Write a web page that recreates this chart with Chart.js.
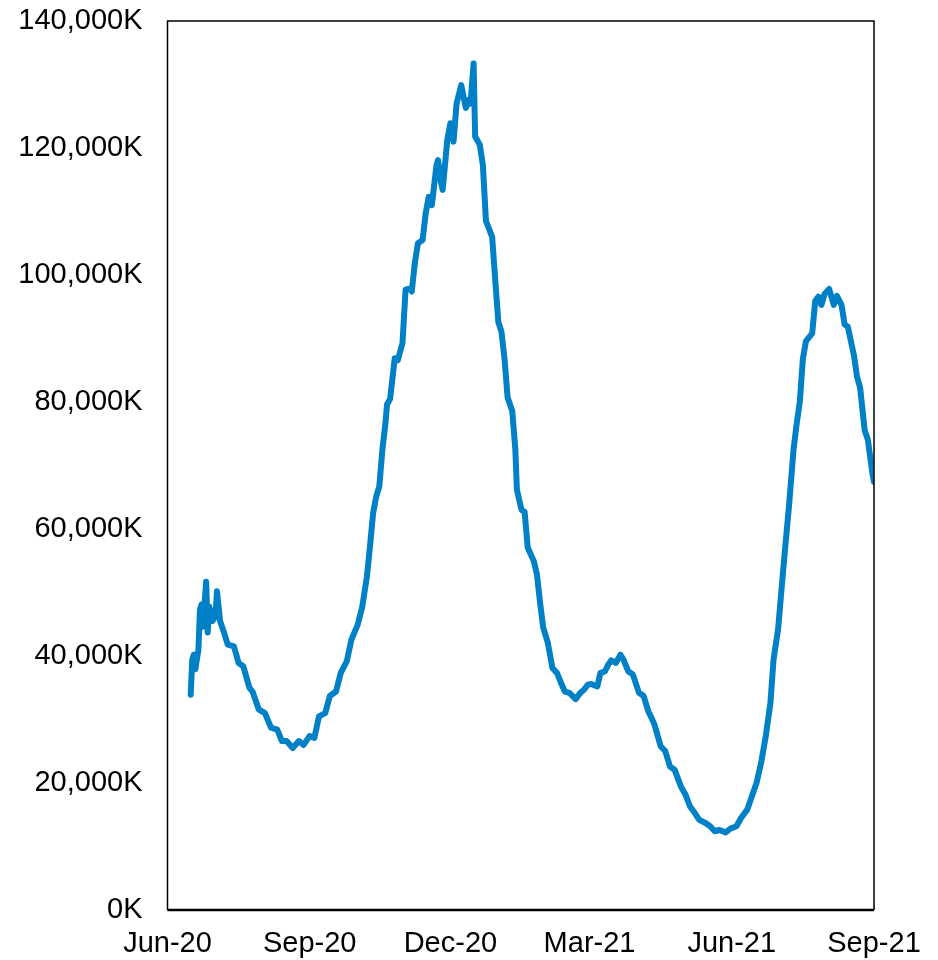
<!DOCTYPE html>
<html>
<head>
<meta charset="utf-8">
<script src="https://cdn.jsdelivr.net/npm/chart.js@4/dist/chart.umd.min.js"></script>
<style>
  html, body { margin: 0; padding: 0; background: #fff; }
  canvas { display: block; }
</style>
</head>
<body>
<canvas id="myChart" width="938" height="960"></canvas>
<script>
// days since 1 Jun 2020
var dayOffsets = [15,16,17,18,20,21,22,23,25,26,27,29,31,32,34,36,39,43,46,49,53,55,59,63,67,71,74,77,81,85,
  88,92,95,98,102,105,109,112,116,119,123,126,129,131,133,135,137,139,141,142,144,147,149,152,154,157,158,160,162,165,
  167,169,171,174,175,177,178,181,183,185,187,190,193,195,196,198,199,202,204,206,210,212,214,216,218,220,223,225,226,229,
  231,233,237,239,241,243,246,249,252,255,257,260,264,267,269,272,274,278,280,283,285,287,290,293,295,298,301,305,308,311,
  313,315,319,322,325,328,332,335,338,341,344,348,351,354,357,361,364,368,371,375,378,381,384,387,390,392,395,397,399,402,
  405,407,409,411,413,417,419,421,423,425,428,431,433,436,438,440,444,446,448,451,453,456,457];
// values in thousands
var values = [33900,39400,40200,37900,41000,47300,48100,44600,51700,43700,47800,45500,46200,50200,45500,44100,41800,41500,38900,38400,35000,34400,31600,31000,28700,28400,26600,26600,25500,26600,
  26000,27400,27100,30500,31000,33700,34400,37300,39200,42600,44900,47800,52500,57300,62500,65100,66700,72500,76700,79600,80500,86900,86600,89300,97700,97900,97400,101900,105000,105500,
  109700,112300,111000,117300,118100,114500,113400,121300,123900,121000,127000,129900,126300,127600,127000,133300,121800,120500,117300,108500,106000,99200,92600,91100,86800,80700,78600,72500,66200,63000,
  62700,57100,54900,52800,48400,44500,42100,38100,37300,35500,34400,34200,33200,34200,34600,35500,35600,35200,37300,37600,38600,39300,38900,40200,39400,37600,37100,34200,33700,31300,
  30300,29200,25800,25000,22600,22100,19500,18200,16300,15300,14200,13700,13200,12400,12600,12200,12800,13200,14500,15800,17900,20000,23200,27400,32600,39400,44300,50000,55600,63600,
  72600,76600,80000,86800,89600,90800,95900,96600,95300,97000,97800,95300,96700,95300,92200,91900,87400,84000,82300,75500,74100,68700,67400];

var tickDays = [0, 92, 183, 273, 365, 457];
var tickLabels = ["Jun-20", "Sep-20", "Dec-20", "Mar-21", "Jun-21", "Sep-21"];
var yTicks = [0, 20000, 40000, 60000, 80000, 100000, 120000, 140000];

var boxPlugin = {
  id: "box",
  afterDraw: function(chart) {
    var a = chart.chartArea, ctx = chart.ctx;
    ctx.save();
    ctx.strokeStyle = "#000";
    ctx.lineWidth = 1.5;
    ctx.beginPath();
    ctx.moveTo(a.left, a.bottom);
    ctx.lineTo(a.left, a.top);
    ctx.lineTo(a.right, a.top);
    ctx.lineTo(a.right, a.bottom);
    ctx.stroke();
    ctx.lineWidth = 2.5;
    ctx.beginPath();
    ctx.moveTo(a.left, a.bottom);
    ctx.lineTo(a.right, a.bottom);
    ctx.stroke();
    ctx.restore();
  }
};

var font = { family: "'Liberation Sans', Arial, sans-serif", size: 29 };

new Chart("myChart", {
  type: "line",
  data: {
    datasets: [{
      data: dayOffsets.map(function(d, i) { return { x: d, y: values[i] }; }),
      borderColor: "#0080c6",
      borderWidth: 6,
      borderJoinStyle: "round",
      borderCapStyle: "round",
      pointRadius: 0,
      tension: 0,
      fill: false
    }]
  },
  options: {
    responsive: false,
    animation: false,
    layout: { padding: { top: 21, right: 64, left: 0, bottom: 0 } },
    plugins: { legend: { display: false }, tooltip: { enabled: false } },
    scales: {
      x: {
        type: "linear",
        min: 0,
        max: 457,
        grid: { display: false, drawTicks: false },
        border: { display: false },
        afterBuildTicks: function(axis) {
          axis.ticks = tickDays.map(function(v) { return { value: v }; });
        },
        afterFit: function(axis) {
          axis.height = 50;
          axis.paddingLeft = 0;
          axis.paddingRight = 0;
        },
        ticks: {
          color: "#000",
          font: font,
          padding: 17,
          maxRotation: 0,
          autoSkip: false,
          callback: function(v) {
            var i = tickDays.indexOf(v);
            return i >= 0 ? tickLabels[i] : "";
          }
        }
      },
      y: {
        min: 0,
        max: 140000,
        grid: { display: false, drawTicks: false },
        border: { display: false },
        afterBuildTicks: function(axis) {
          axis.ticks = yTicks.map(function(v) { return { value: v }; });
        },
        afterFit: function(axis) {
          axis.width = 167.5;
          axis.paddingTop = 0;
          axis.paddingBottom = 0;
        },
        ticks: {
          color: "#000",
          font: font,
          padding: 25,
          callback: function(v) { return v.toLocaleString("en-US") + "K"; }
        }
      }
    }
  },
  plugins: [boxPlugin]
});
</script>
</body>
</html>
